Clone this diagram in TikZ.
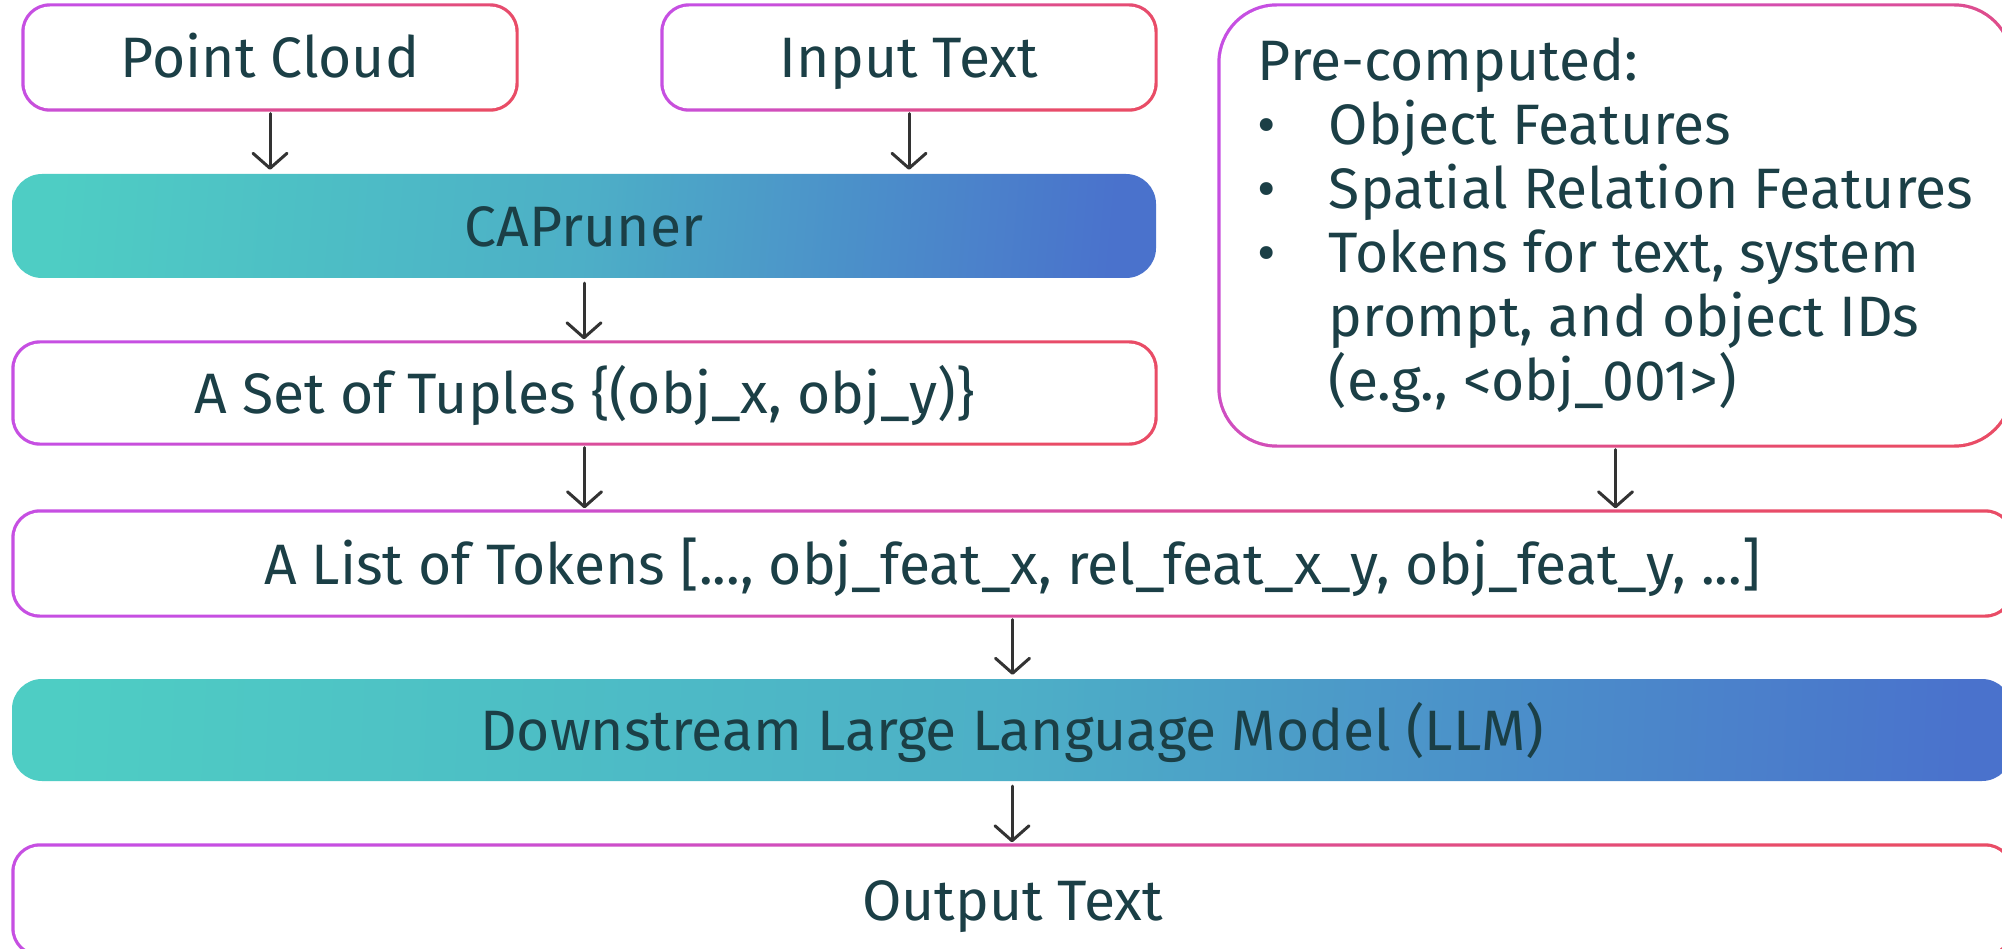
\documentclass[tikz,border=0pt]{standalone}
\usepackage{fontspec}
\setmainfont{Fira Sans}
\usetikzlibrary{arrows.meta,calc,backgrounds}
\definecolor{gpurple}{HTML}{C64FE2}
\definecolor{gred}{HTML}{E94C66}
\definecolor{gteal}{HTML}{4ECDC4}
\definecolor{gblue}{HTML}{4A72CC}
\definecolor{txt}{HTML}{1B3F46}
\definecolor{arrc}{HTML}{333333}
\tikzset{
  lbl/.style={font=\fontsize{57}{64}\selectfont, text=txt, inner sep=0pt},
  oneline/.style={text height=50pt, text depth=9pt},
  wbox/.style={lbl, oneline, rounded corners=#1, fill=white},
  gbox/.style={lbl, oneline, rounded corners=30pt, top color=gteal, bottom color=gblue,
    middle color=gblue!33!gteal, shading angle=#1},
  bord/.style={top color=gpurple, bottom color=gred, shading angle=45, rounded corners=#1},
  arr/.style={draw=arrc, line width=3pt, line cap=round,
    -{Straight Barb[length=15pt,width=34pt,round]}, shorten <=5pt, shorten >=4pt}
}
\newcommand\gborder[2]{\shade[bord=#2] ($(#1.south west)+(-3pt,-3pt)$) rectangle ($(#1.north east)+(3pt,3pt)$);}
\begin{document}
\begin{tikzpicture}[x=1pt,y=-1pt]
\useasboundingbox (0,0) rectangle (2002,949);
\clip (0,0) rectangle (2002,949);

\node[wbox=25.5pt, minimum width=491pt, minimum height=102pt] (pc) at (270,57.5) {Point Cloud};
\node[wbox=25.5pt, minimum width=491pt, minimum height=102pt] (it) at (909,57.5) {Input Text};
\node[lbl, rounded corners=56.5pt, fill=white, minimum width=790pt, minimum height=438pt,
      align=left] (pre) at (1615.5,225.5)
  {Pre-computed:\\
   \makebox[71pt][l]{•}Object Features\\
   \makebox[71pt][l]{•}Spatial Relation Features\\
   \makebox[71pt][l]{•}Tokens for text, system\\
   \hspace*{71pt}prompt, and object IDs\\
   \hspace*{71pt}(e.g., <obj\_001>)};
\node[gbox=84.8, minimum width=1144pt, minimum height=104pt] (cap) at (584,226) {CAPruner};
\node[wbox=25.5pt, minimum width=1140pt, minimum height=99pt] (tup) at (584.5,393) {A Set of Tuples \{(obj\_x, obj\_y)\}};
\node[wbox=25.5pt, minimum width=1996pt, minimum height=102pt] (lst) at (1012.5,563.5) {A List of Tokens [..., obj\_feat\_x, rel\_feat\_x\_y, obj\_feat\_y, ...]};
\node[gbox=87.1, minimum width=2000pt, minimum height=102pt] (llm) at (1012,730) {Downstream Large Language Model (LLM)};
\node[wbox=25.5pt, minimum width=1996pt, minimum height=107pt] (out) at (1012.5,900) {Output Text};

\begin{scope}[on background layer]
  \fill[white] (0,0) rectangle (2002,949);
  \gborder{pc}{28.5pt}
  \gborder{it}{28.5pt}
  \gborder{pre}{59.5pt}
  \gborder{tup}{28.5pt}
  \gborder{lst}{28.5pt}
  \gborder{out}{28.5pt}
\end{scope}

\draw[arr] (pc.south) -- (pc.south |- cap.north);
\draw[arr] (it.south) -- (it.south |- cap.north);
\draw[arr] (cap.south) -- (cap.south |- tup.north);
\draw[arr] (tup.south) -- (tup.south |- lst.north);
\draw[arr] (pre.south) -- (pre.south |- lst.north);
\draw[arr] (lst.south) -- (lst.south |- llm.north);
\draw[arr] (llm.south) -- (llm.south |- out.north);
\end{tikzpicture}
\end{document}
